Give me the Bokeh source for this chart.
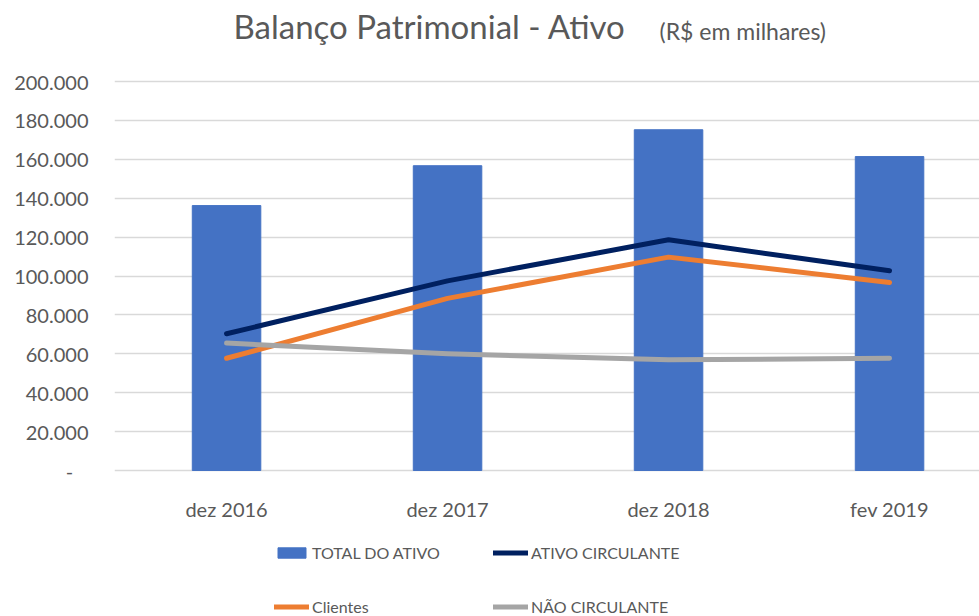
from bokeh.plotting import figure
from bokeh.models import (ColumnDataSource, Range1d, FixedTicker, Label, Legend, LegendItem)
from bokeh.embed import file_html
from bokeh.resources import INLINE

categories = ["dez 2016", "dez 2017", "dez 2018", "fev 2019"]
total_ativo = [136200, 156700, 175200, 161400]
ativo_circulante = [70300, 97500, 118600, 102700]
clientes = [57700, 88500, 109700, 96700]
nao_circulante = [65500, 60000, 56900, 57700]
y_ticks = [0, 20000, 40000, 60000, 80000, 100000, 120000, 140000, 160000, 180000, 200000]

FONT = "Lato"
TXT = "#595959"

xs = list(range(len(categories)))
src = ColumnDataSource(dict(x=xs, total=total_ativo, ac=ativo_circulante,
                            cl=clientes, nc=nao_circulante))

# layout geometry (pixels): frame covers full height; value 0 at y=470, 200000 at y=81
W, H = 979, 616
LEFT = 114
Y0_PX, YTOP_PX = 470, 81
per_px = 200000 / (Y0_PX - YTOP_PX)
y_start = -(H - Y0_PX) * per_px
y_end = 200000 + YTOP_PX * per_px

p = figure(width=W, height=H, output_backend="svg", toolbar_location=None,
           x_range=Range1d(-0.507, -0.507 + (W - LEFT) / 221.0),
           y_range=Range1d(y_start, y_end),
           min_border_left=LEFT, min_border_right=0, min_border_top=0,
           min_border_bottom=0)
p.outline_line_color = None
p.background_fill_color = "white"
p.border_fill_color = "white"

bars = p.vbar(x="x", top="total", width=0.31, bottom=0, source=src,
              fill_color="#4472C4", line_color="#4472C4")
l_ac = p.line(x="x", y="ac", source=src, line_color="#002060", line_width=5,
              line_cap="round", line_join="round")
l_cl = p.line(x="x", y="cl", source=src, line_color="#ED7D31", line_width=5,
              line_cap="round", line_join="round")
l_nc = p.line(x="x", y="nc", source=src, line_color="#A5A5A5", line_width=5,
              line_cap="round", line_join="round")

# axes
p.xaxis.ticker = FixedTicker(ticks=xs)
p.xaxis.major_label_overrides = {i: c for i, c in enumerate(categories)}
p.xaxis.fixed_location = 0
p.yaxis.ticker = FixedTicker(ticks=y_ticks)
ov = {v: f"{v:,}".replace(",", ".") for v in y_ticks}
ov[0] = "-\u00a0\u00a0\u00a0"
p.yaxis.major_label_overrides = ov
for ax in (p.xaxis, p.yaxis):
    ax.axis_line_color = None
    ax.major_tick_line_color = None
    ax.minor_tick_line_color = None
    ax.major_label_text_font = FONT
    ax.major_label_text_font_size = "20px"
    ax.major_label_text_color = TXT
p.yaxis.major_label_standoff = 20
p.xaxis.major_label_standoff = 20

p.xgrid.grid_line_color = None
p.ygrid.ticker = FixedTicker(ticks=y_ticks)
p.ygrid.grid_line_color = "#D9D9D9"
p.ygrid.grid_line_width = 1.5

# titles (screen units relative to frame bottom-left)
p.add_layout(Label(x=233 - LEFT, y=H - 25, x_units="screen", y_units="screen",
                   text="Balanço Patrimonial - Ativo", text_font=FONT,
                   text_font_size="33px", text_color=TXT, text_baseline="middle"))
p.add_layout(Label(x=659 - LEFT, y=H - 30, x_units="screen", y_units="screen",
                   text="(R$ em milhares)", text_font=FONT,
                   text_font_size="23px", text_color=TXT, text_baseline="middle"))

legend = Legend(items=[
    LegendItem(label="TOTAL DO ATIVO", renderers=[bars]),
    LegendItem(label="ATIVO CIRCULANTE", renderers=[l_ac]),
    LegendItem(label="Clientes", renderers=[l_cl]),
    LegendItem(label="NÃO CIRCULANTE", renderers=[l_nc]),
], location=(274 - LEFT, 0), orientation="horizontal", ncols=2,
    glyph_width=35, glyph_height=13, label_standoff=3, label_width=147,
    label_height=20, spacing=34, padding=0, margin=0,
    border_line_color=None, background_fill_alpha=0,
    label_text_font=FONT, label_text_font_size="16px", label_text_color=TXT)
p.add_layout(legend, "center")

open("out.html", "w").write(file_html(p, INLINE))
